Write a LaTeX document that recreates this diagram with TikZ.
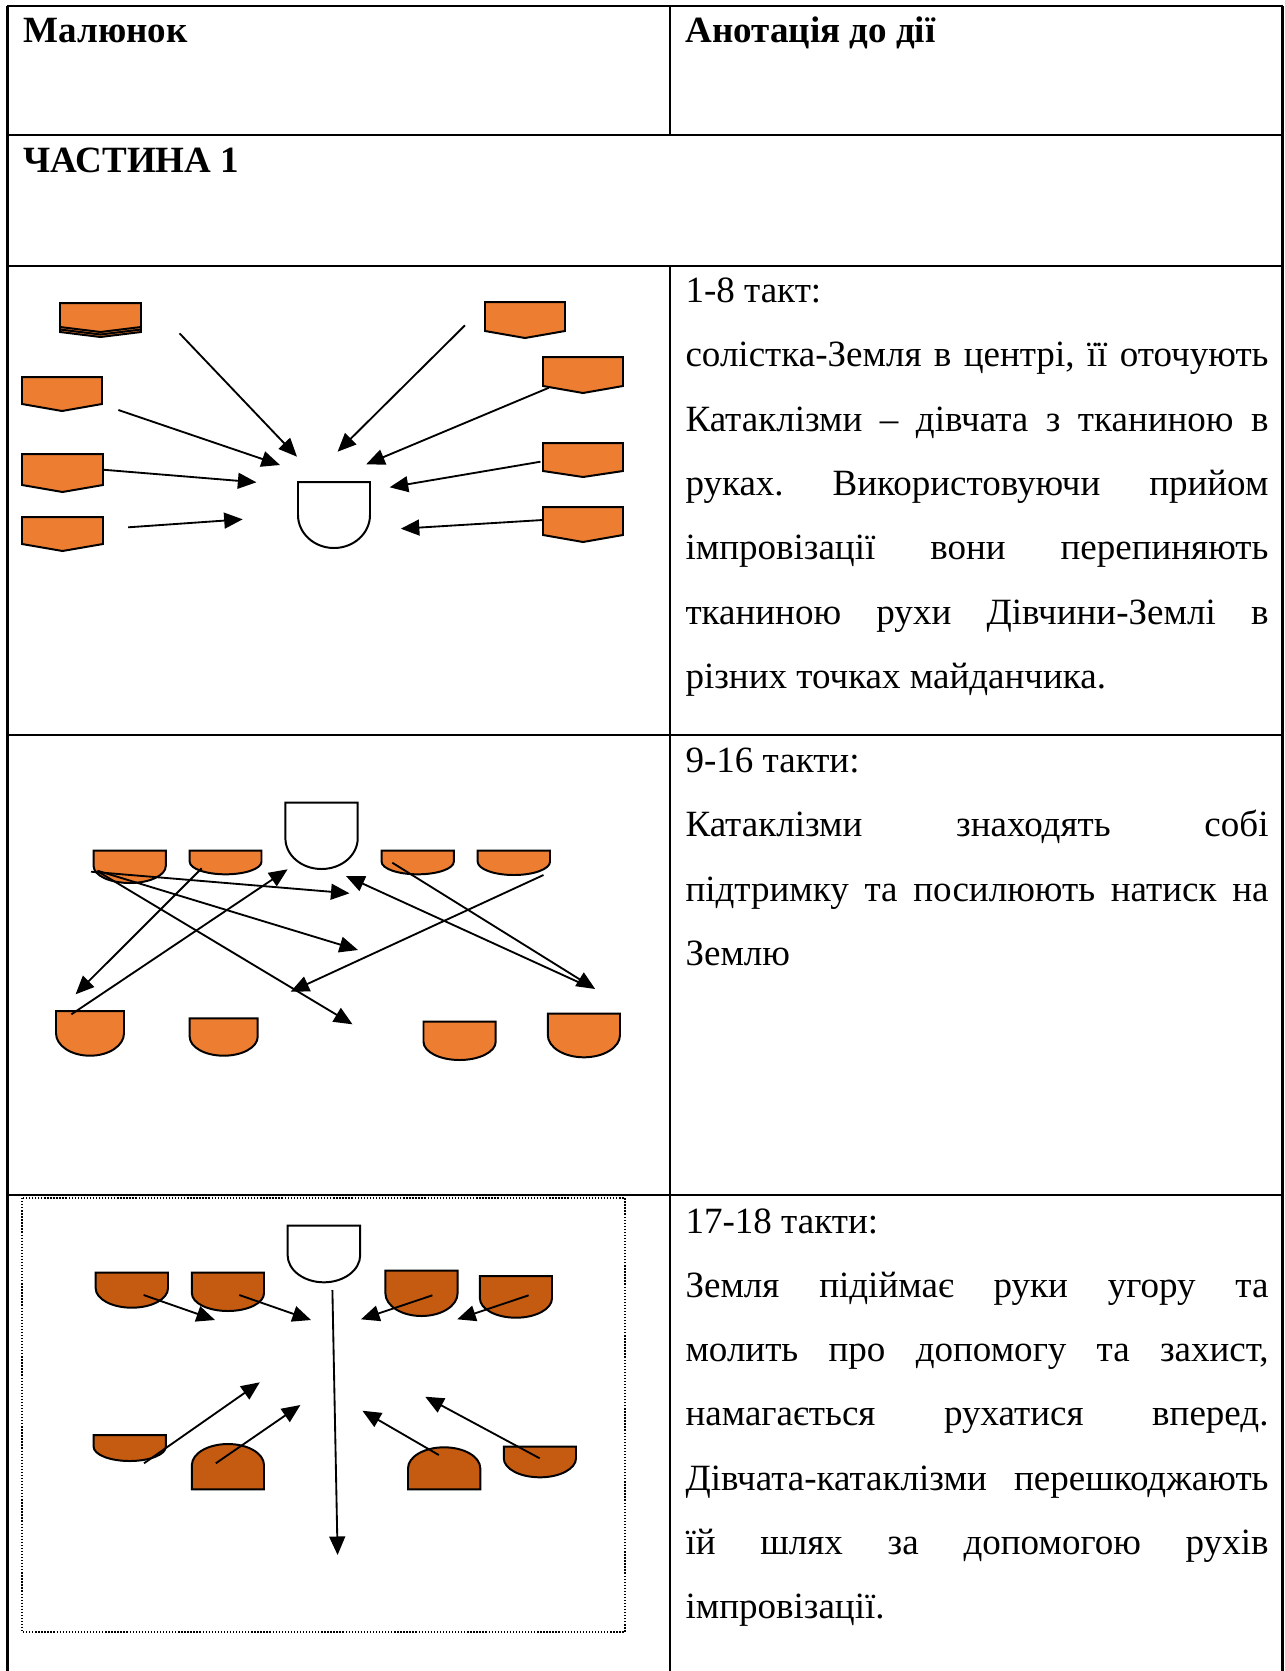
\documentclass[tikz,border=0pt]{standalone}
\usepackage{fontspec}
\setmainfont{Liberation Serif}
\usetikzlibrary{arrows.meta}
\definecolor{orangeA}{HTML}{ED7D31}
\definecolor{orangeB}{HTML}{C55A11}
\newlength\px
\setlength\px{0.378pt}
\frenchspacing

% pentagon pointing down: x1, x2, top, bottom of sides, tip
\newcommand\pentfig[5]{%
  \draw[figline, fill=orangeA] (#1,#3) -- (#2,#3) -- (#2,#4) -- ({(#1+#2)/2},#5) -- (#1,#4) -- cycle;}
% flat top, round bottom: fill, x1, x2, top, end of sides, bottom
\newcommand\cupfig[6]{%
  \pgfmathsetmacro\cxm{(#2+#3)/2}%
  \pgfmathsetmacro\chw{(#3-#2)/2*0.5523}%
  \pgfmathsetmacro\chh{(#6-#5)*0.5523}%
  \draw[figline, fill=#1] (#2,#4) -- (#3,#4) -- (#3,#5)
    .. controls (#3,#5+\chh) and (\cxm+\chw,#6) .. (\cxm,#6)
    .. controls (\cxm-\chw,#6) and (#2,#5+\chh) .. (#2,#5) -- cycle;}
% round top, flat bottom: fill, x1, x2, top, start of sides, bottom
\newcommand\domefig[6]{%
  \pgfmathsetmacro\cxm{(#2+#3)/2}%
  \pgfmathsetmacro\chw{(#3-#2)/2*0.5523}%
  \pgfmathsetmacro\chh{(#5-#4)*0.5523}%
  \draw[figline, fill=#1] (#2,#6) -- (#3,#6) -- (#3,#5)
    .. controls (#3,#5-\chh) and (\cxm+\chw,#4) .. (\cxm,#4)
    .. controls (\cxm-\chw,#4) and (#2,#5-\chh) .. (#2,#5) -- cycle;}
% annotation lines: justified and ragged
\newcommand\jline[2]{\node[txt] at (685,#1) {\makebox[583\px][s]{#2}};}
\newcommand\lline[2]{\node[txt] at (685,#1) {#2};}

\begin{document}
\begin{tikzpicture}[x=0.378pt, y=-0.378pt,
  figline/.style={draw=black, line width=0.75pt},
  move/.style={line width=0.7pt, -{Triangle[length=7pt,width=6pt]}},
  grid/.style={line width=1pt},
  txt/.style={anchor=base west, inner sep=0pt, font=\fontsize{14pt}{16pt}\selectfont},
  head/.style={anchor=base west, inner sep=0pt, font=\bfseries\fontsize{14pt}{16pt}\selectfont}]
\useasboundingbox (0,0) rectangle (1285,1671);

% table rules
\draw[grid] (7,6) -- (1283,6);
\foreach \yy in {135,266,735,1195} \draw[grid] (7,\yy) -- (1283,\yy);
\draw[grid] (7.5,6) -- (7.5,1671);
\draw[grid] (1282.5,6) -- (1282.5,1671);
\draw[grid] (670,6) -- (670,135);
\draw[grid] (670,266) -- (670,1671);

% headings
\node[head] (h1) at (23,42) {Малюнок};
\node[head] (h2) at (685,42) {Анотація до дії};
\node[head] (h3) at (23,172) {ЧАСТИНА 1};

% ---- bars 1-8
\pentfig{60}{141}{303}{332}{337}
\pentfig{60}{141}{303}{329.5}{334.5}
\pentfig{60}{141}{303}{327}{332}
\pentfig{22}{102}{377}{404}{411}
\pentfig{22}{103}{454}{485}{492}
\pentfig{22}{103}{517}{544}{551}
\pentfig{485}{565}{302}{331}{338}
\pentfig{543}{623}{357}{386}{393}
\pentfig{543}{623}{443}{471}{477}
\pentfig{543}{623}{507}{535}{542}
\cupfig{white}{298}{370}{482}{515}{548}

\draw[move] (179.5,333.3) -- (297,456.7);
\draw[move] (465,325.3) -- (337.6,451.7);
\draw[move] (118.4,410) -- (280,465);
\draw[move] (549,387.7) -- (366.2,464.3);
\draw[move] (103,469.7) -- (256.4,482.3);
\draw[move] (540.5,461.7) -- (389.7,487.3);
\draw[move] (128.2,527.3) -- (242.7,519.3);
\draw[move] (542.7,520) -- (400.8,528.7);

% ---- bars 9-16
\cupfig{white}{285.4}{357.7}{802.7}{838.3}{869}
\cupfig{orangeA}{93.6}{165.8}{850.7}{866}{883}
\cupfig{orangeA}{189.7}{261.5}{850.7}{861.7}{874.3}
\cupfig{orangeA}{381.6}{453.8}{850.7}{861.7}{874.3}
\cupfig{orangeA}{477.7}{550}{850.7}{861.7}{875}
\cupfig{orangeA}{56}{124}{1011}{1033.3}{1055.7}
\cupfig{orangeA}{189.7}{257.7}{1018.3}{1036.7}{1055.7}
\cupfig{orangeA}{423.5}{495.7}{1021.7}{1041.7}{1060}
\cupfig{orangeA}{547.8}{620}{1013.7}{1035}{1057.3}

\draw[move] (91,871.7) -- (349.5,893.3);
\draw[move] (97.4,870.7) -- (358,950);
\draw[move] (98.3,871.7) -- (352.5,1024.3);
\draw[move] (201.7,868.3) -- (75.6,994.3);
\draw[move] (71.4,1014.3) -- (287.6,869.3);
\draw[move] (392.3,862.7) -- (595.2,989);
\draw[move] (543.5,875) -- (290.6,991.7);
\draw[move] (581,983.3) -- (346,876);

% ---- bars 17-18
\draw[line width=0.5pt, dash pattern=on 0.5pt off 0.65pt] (22,1198) rectangle (625,1632);
\cupfig{white}{287.6}{360.2}{1225.7}{1255}{1282.3}
\cupfig{orangeB}{95.7}{168}{1272.7}{1288.3}{1307.7}
\cupfig{orangeB}{191.9}{264}{1272.7}{1293.3}{1311}
\cupfig{orangeB}{385.4}{457.6}{1270.7}{1293.3}{1316}
\cupfig{orangeB}{479.9}{552}{1276}{1298.3}{1317.7}
\cupfig{orangeB}{93.6}{165.8}{1435}{1446.7}{1461}
\domefig{orangeB}{191.9}{264}{1444}{1465}{1489.3}
\domefig{orangeB}{408}{480.3}{1447.3}{1468.3}{1489.3}
\cupfig{orangeB}{503.8}{576}{1446.7}{1458.3}{1477.3}

\draw[move] (143.6,1295) -- (215,1320);
\draw[move] (239.3,1295) -- (311,1320);
\draw[move] (432.4,1295.3) -- (361,1319.3);
\draw[move] (528.6,1295.3) -- (457.2,1319.3);
\draw[move] (332.4,1290) -- (337.6,1555);
\draw[move] (144,1463.3) -- (259.8,1382.3);
\draw[move] (215.8,1463.3) -- (300.4,1405);
\draw[move] (438.8,1455) -- (362.4,1410.7);
\draw[move] (539.7,1458.3) -- (425.2,1396.7);

% ---- annotations
\lline{302.5}{1-8 такт:}
\jline{366.8}{солістка-Земля в центрі, її оточують}
\jline{431.1}{Катаклізми – дівчата з тканиною в}
\jline{495.4}{руках. Використовуючи прийом}
\jline{559.7}{імпровізації вони перепиняють}
\jline{624}{тканиною рухи Дівчини-Землі в}
\lline{688.3}{різних точках майданчика.}

\lline{772.5}{9-16 такти:}
\jline{836.8}{Катаклізми знаходять собі}
\jline{901.1}{підтримку та посилюють натиск на}
\lline{965.4}{Землю}

\lline{1233}{17-18 такти:}
\jline{1297.3}{Земля підіймає руки угору та}
\jline{1361.6}{молить про допомогу та захист,}
\jline{1425.9}{намагається рухатися вперед.}
\jline{1490.2}{Дівчата-катаклізми перешкоджають}
\jline{1554.5}{їй шлях за допомогою рухів}
\lline{1618.8}{імпровізації.}
\end{tikzpicture}
\end{document}
